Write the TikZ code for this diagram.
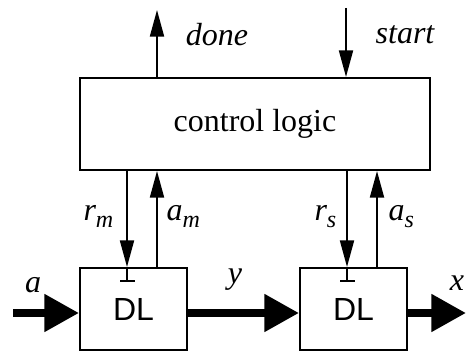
\documentclass[tikz,border=0pt]{standalone}
\usepackage{fontspec}
\setmainfont{Liberation Serif}
\setsansfont{Liberation Sans}
\usetikzlibrary{arrows.meta}
\newcommand\lsub[1]{\raisebox{-5pt}{\fontsize{18}{20}\selectfont #1}}

\begin{document}
\begin{tikzpicture}[x=0.75pt,y=0.75pt,
  every node/.style={font=\fontsize{24}{28}\selectfont},
  unit/.style={draw,line width=1.5pt,inner sep=0pt},
  sig/.style={line width=1.5pt,-{Triangle[length=20pt,width=10.5pt]}},
  bus/.style={line width=6pt,-{Triangle[length=26pt,width=27pt]}}]
  \useasboundingbox (0,0) rectangle (466,352);
  % blocks
  \node[unit,minimum width=262.5pt,minimum height=69pt] (ctrl) at (255,228) {control logic};
  \node[unit,minimum width=80.25pt,minimum height=61.5pt,font=\fontsize{24}{28}\sffamily] (dlm) at (133.5,43) {DL};
  \node[unit,minimum width=80.25pt,minimum height=61.5pt,font=\fontsize{24}{28}\sffamily] (dls) at (353.5,43) {DL};
  % ends and wire columns
  \coordinate (done) at (157,342);
  \coordinate (start) at (346,344);
  \coordinate (ain) at (13,39);
  \coordinate (xout) at (466,39);
  \coordinate (rm) at (127,0);
  \coordinate (am) at (157,0);
  \coordinate (rs) at (347,0);
  \coordinate (as) at (377,0);
  % global handshake
  \draw[sig] (ctrl.north -| done) -- (done);
  \draw[sig] (start) -- (ctrl.north -| start);
  \node[font=\fontsize{24}{28}\itshape] (donel) at (217,317) {done};
  \node[font=\fontsize{24}{28}\itshape] (startl) at (405,317) {start};
  % local handshakes
  \draw[sig] (ctrl.south -| rm) -- (dlm.north -| rm);
  \draw[line width=1.5pt,-{Bar[width=11.25pt]}] (dlm.north -| rm) -- ++(0,-15);
  \draw[sig] (dlm.north -| am) -- (ctrl.south -| am);
  \draw[sig] (ctrl.south -| rs) -- (dls.north -| rs);
  \draw[line width=1.5pt,-{Bar[width=11.25pt]}] (dls.north -| rs) -- ++(0,-15);
  \draw[sig] (dls.north -| as) -- (ctrl.south -| as);
  \node[anchor=base east,font=\fontsize{24}{28}\itshape] (rml) at (118,131) {r\lsub{m}};
  \node[anchor=base west,font=\fontsize{24}{28}\itshape] (aml) at (162,131) {a\lsub{m}};
  \node[anchor=base east,font=\fontsize{24}{28}\itshape] (rsl) at (341,131) {r\lsub{s}};
  \node[anchor=base west,font=\fontsize{24}{28}\itshape] (asl) at (384,131) {a\lsub{s}};
  % data path
  \draw[bus] (ain) -- ([yshift=-3pt]dlm.west);
  \draw[bus] ([yshift=-3pt]dlm.east) -- ([yshift=-3pt]dls.west);
  \draw[bus] ([yshift=-3pt]dls.east) -- (xout);
  \node[font=\fontsize{24}{28}\itshape] (al) at (33,67) {a};
  \node[font=\fontsize{24}{28}\itshape] (yl) at (235,72) {y};
  \node[font=\fontsize{24}{28}\itshape] (xl) at (457,69) {x};
\end{tikzpicture}
\end{document}
